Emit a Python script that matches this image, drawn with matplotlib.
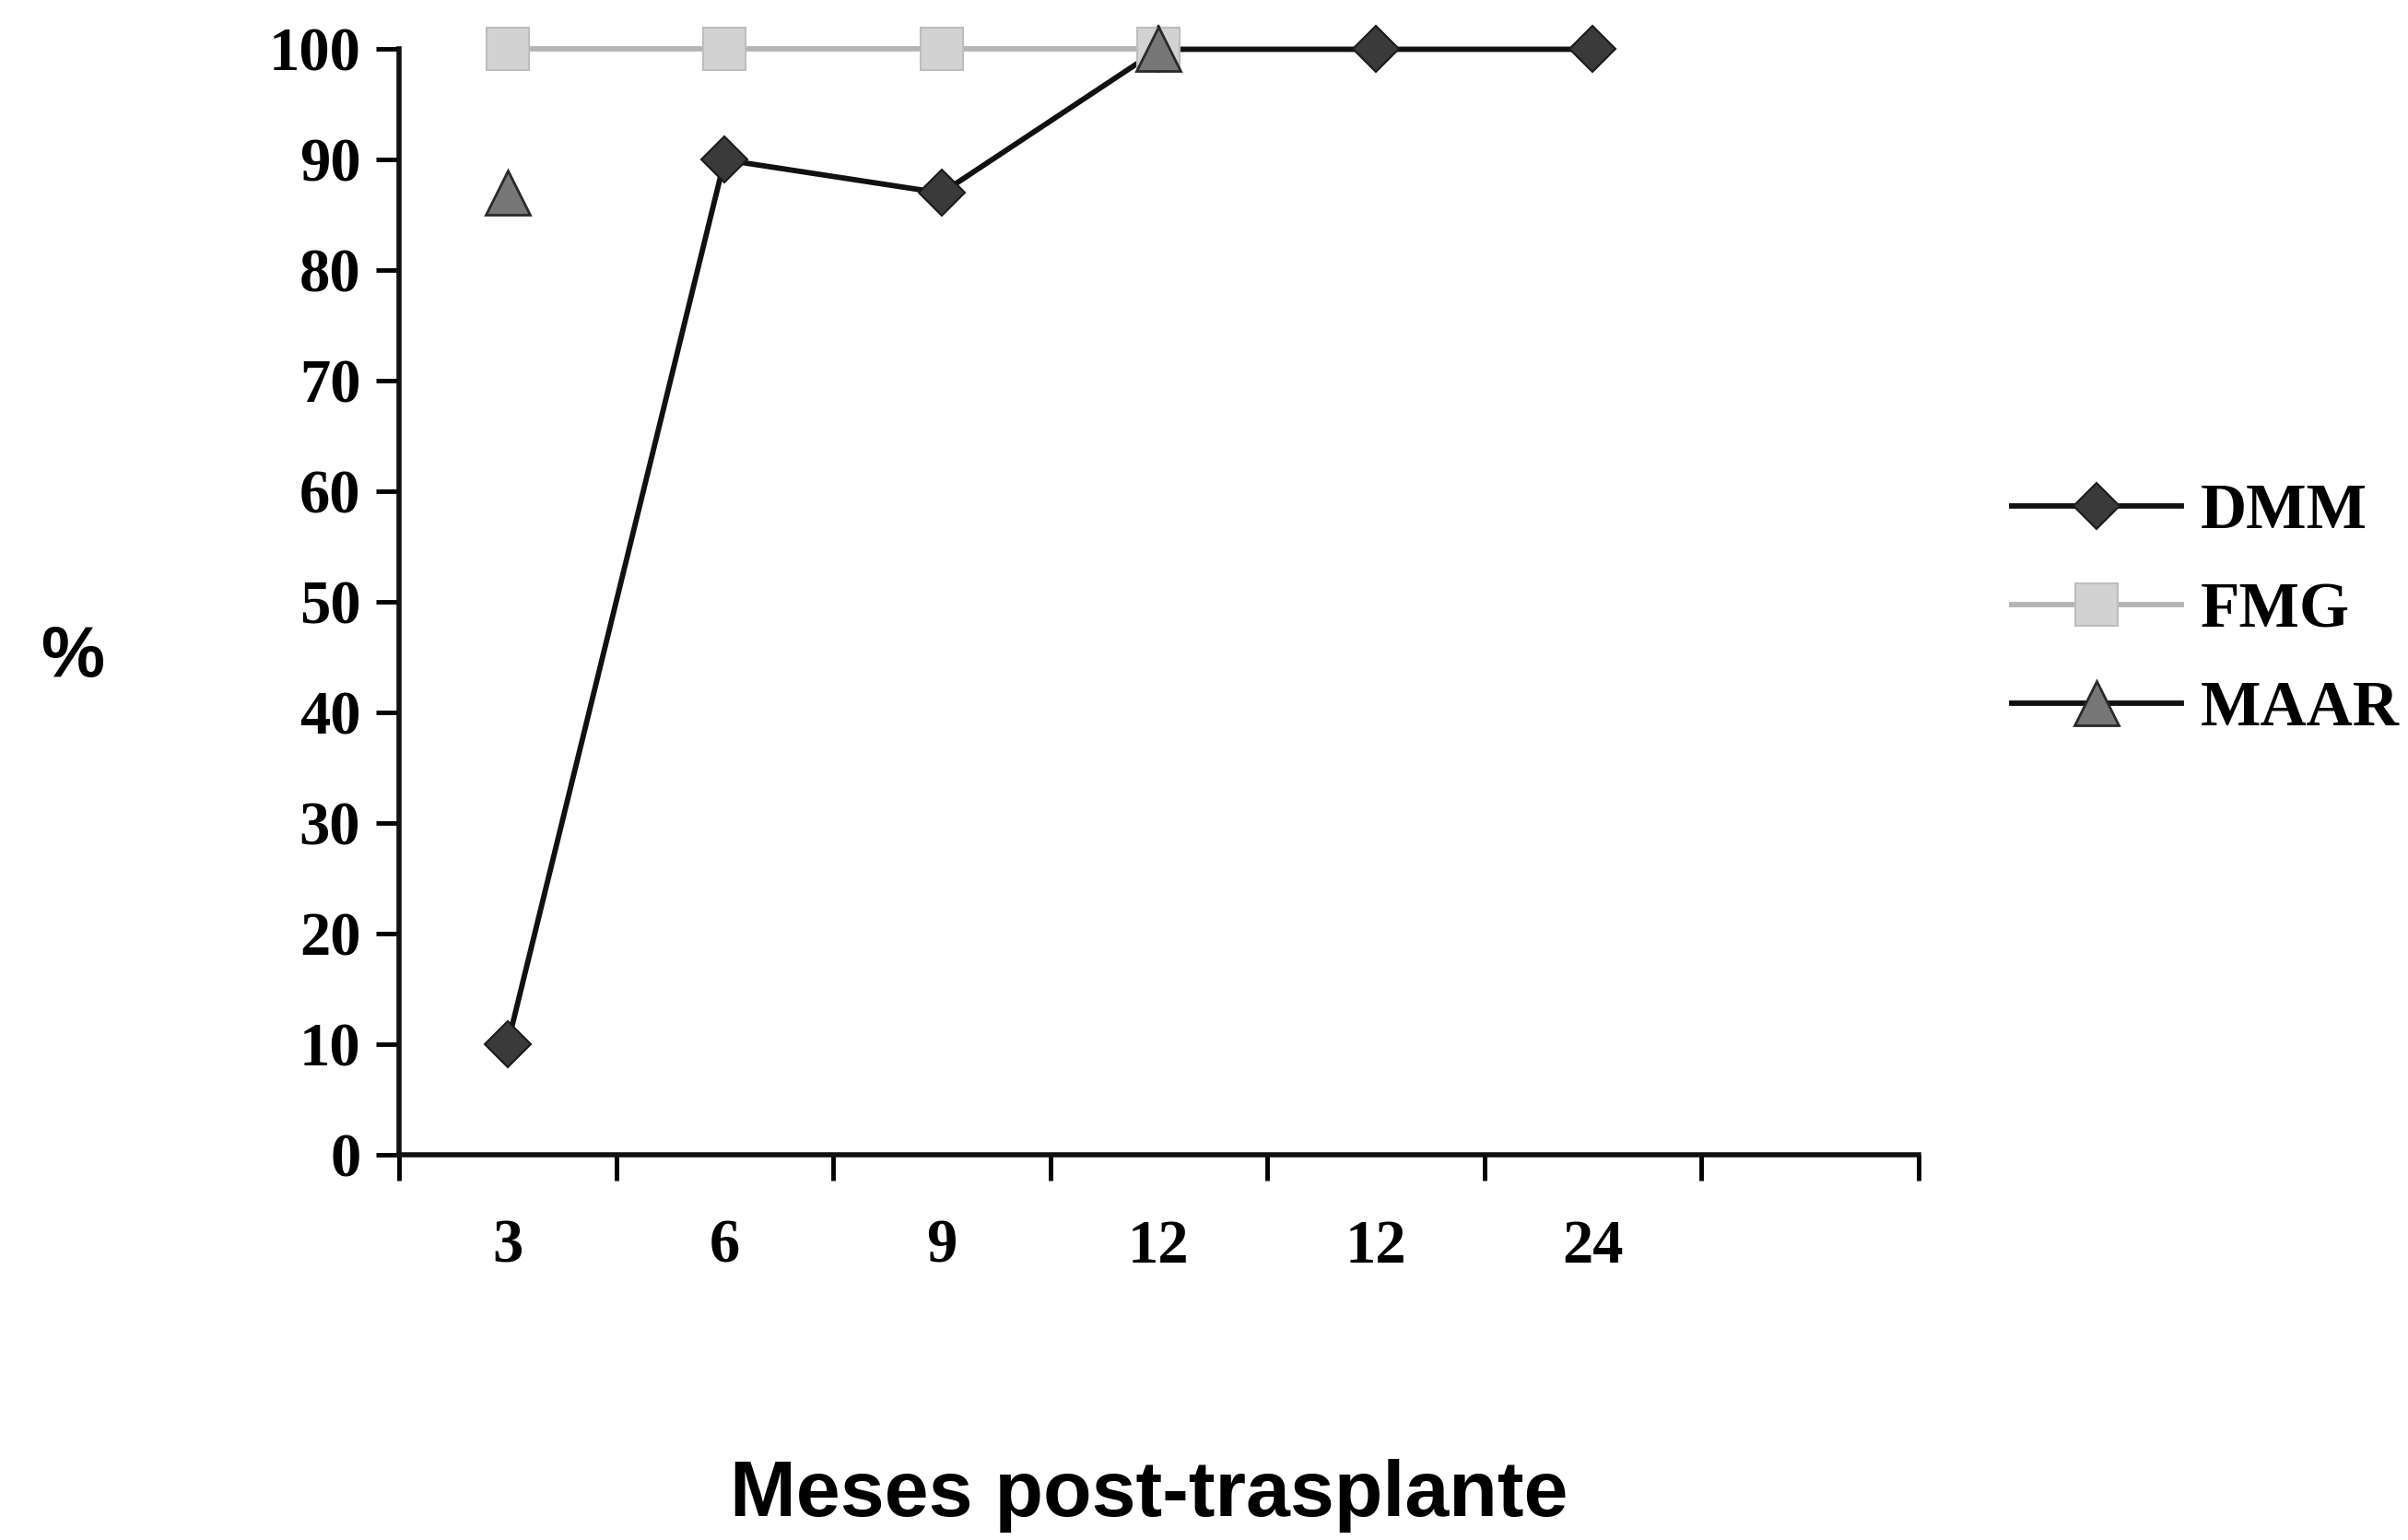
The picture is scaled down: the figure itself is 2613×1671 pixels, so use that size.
import numpy as np
import matplotlib
matplotlib.use("Agg")
import matplotlib.pyplot as plt

# datos
meses = ["3", "6", "9", "12", "12", "24", ""]
dmm = [10, 90, 87, 100, 100, 100]
fmg = [100, 100, 100, 100]
maar = [87, np.nan, np.nan, 100]

serif = "Liberation Serif"
sans = "Liberation Sans"

fig = plt.figure(figsize=(26.13, 16.71), dpi=100)
ax = fig.add_axes([0.1657, 0.250, 0.631, 0.718])

x_dmm = np.arange(len(dmm))
x_fmg = np.arange(len(fmg))
x_maar = np.arange(len(maar))

ax.plot(x_dmm, dmm, color="#111111", lw=4.2, marker="D", ms=25,
        mfc="#3a3a3a", mec="#1a1a1a", mew=1.5, label="DMM", clip_on=False, zorder=3)
ax.plot(x_fmg, fmg, color="#b4b4b4", lw=4.2, marker="s", ms=33,
        mfc="#d2d2d2", mec="#bdbdbd", mew=1.5, label="FMG", clip_on=False, zorder=4)
ax.plot(x_maar, maar, color="#111111", lw=4.2, marker="^", ms=34,
        mfc="#777777", mec="#2a2a2a", mew=2, label="MAAR", clip_on=False, zorder=5)
# la serie MAAR no tiene segmentos visibles entre puntos aislados
ax.lines[-1].set_linestyle("none")

ax.set_xlim(-0.5, len(meses) - 0.5)
ax.set_ylim(0, 100)

for s in ["top", "right"]:
    ax.spines[s].set_visible(False)
for s in ["left", "bottom"]:
    ax.spines[s].set_linewidth(4)
    ax.spines[s].set_color("#111111")

# y
ax.set_yticks(np.arange(0, 101, 10))
ax.tick_params(axis="y", direction="out", length=18, width=3.5, pad=12)
# x: ticks en los bordes de cada categoria, etiquetas centradas
ax.set_xticks(np.arange(-0.5, len(meses), 1.0))
ax.set_xticklabels([])
ax.set_xticks(np.arange(len(meses)), minor=True)
ax.set_xticklabels(meses, minor=True)
ax.tick_params(axis="x", which="major", direction="out", length=20, width=3.5)
ax.tick_params(axis="x", which="minor", length=0, pad=50)

for lab in ax.get_yticklabels() + ax.get_xticklabels(minor=True):
    lab.set_fontfamily(serif)
    lab.set_fontweight("bold")
    lab.set_fontsize(48)

fig.text(0.030, 0.573, "%", fontfamily=sans, fontweight="bold", fontsize=56,
         ha="center", va="center")
fig.text(0.477, 0.029, "Meses post-trasplante", fontfamily=sans, fontweight="bold",
         fontsize=62, ha="center", va="center")

ax.legend(loc="center left", bbox_to_anchor=(0.8354, 0.603), bbox_transform=fig.transFigure,
          frameon=False, borderpad=0, borderaxespad=0, handlelength=2.65,
          handletextpad=0.3, labelspacing=0.62, numpoints=1,
          prop={"family": serif, "weight": "bold", "size": 50})
leg = ax.get_legend()
leg.get_lines()[2].set_linestyle("-")

fig.savefig("out.png", dpi=100, facecolor="white")
